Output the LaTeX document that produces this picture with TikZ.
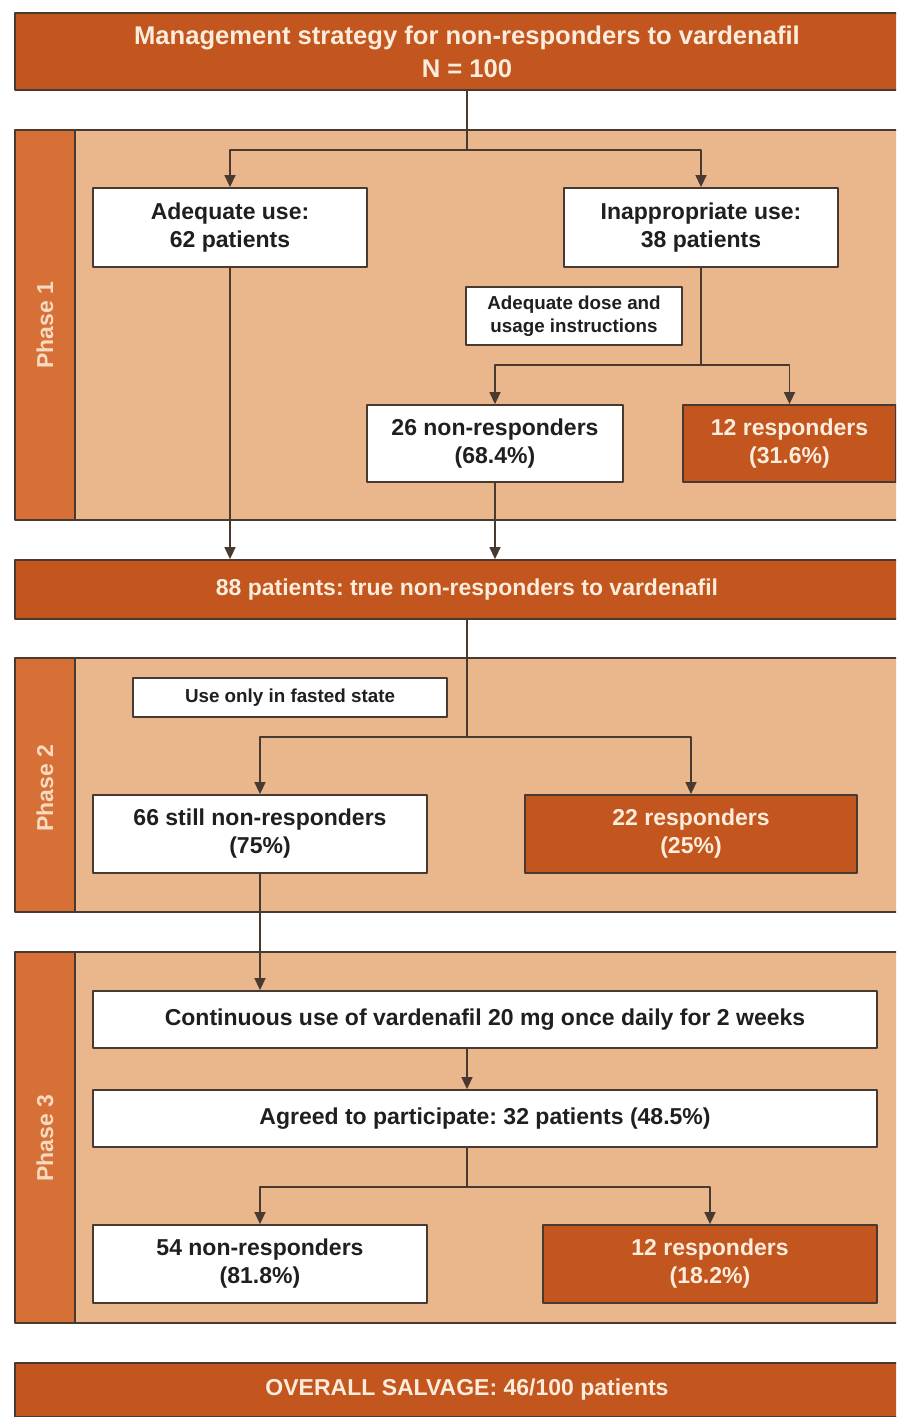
\documentclass[tikz,border=0pt]{standalone}
\usepackage{fontspec}
\setmainfont{Liberation Sans}
\usepackage{tikz}
\usetikzlibrary{arrows.meta,positioning}
\frenchspacing
\definecolor{barorange}{RGB}{194,86,30}
\definecolor{phasestrip}{RGB}{214,112,54}
\definecolor{phasetan}{RGB}{234,183,140}
\definecolor{phaselabel}{RGB}{248,218,192}
\definecolor{boxline}{RGB}{72,58,48}
\definecolor{creamtext}{RGB}{252,236,220}
\tikzset{
 whitebox/.style={draw=boxline,line width=0.9pt,fill=white,text=black!88,
  font=\bfseries\fontsize{11.5}{14}\selectfont,align=center,inner sep=0pt},
 orangebox/.style={whitebox,fill=barorange,text=creamtext},
 notebox/.style={whitebox,font=\bfseries\fontsize{9.4}{11.5}\selectfont},
 phasetag/.style={rotate=90,text=phaselabel,font=\bfseries\fontsize{11.5}{14}\selectfont},
 link/.style={draw=boxline,line width=0.75pt},
}

\begin{document}
\begin{tikzpicture}[x=0.5pt,y=-0.5pt,>={Triangle[length=6pt,width=5.5pt]},line cap=round,line join=round]
 \path[use as bounding box] (0,0) rectangle (896,1417);
 \clip (0,0) rectangle (896,1417);
 \fill[white] (0,0) rectangle (896,1417);
 % Fasen-panelen met gekleurde zijstrook.
 \fill[phasetan] (15,130) rectangle (919,520);
 \fill[phasestrip] (15,130) rectangle (75,520);
 \draw[boxline,line width=0.8pt] (15,130) rectangle (919,520) (75,130)--(75,520);
 \node[phasetag] (phase1) at (45,325) {Phase 1};
 \fill[phasetan] (15,658) rectangle (919,912);
 \fill[phasestrip] (15,658) rectangle (75,912);
 \draw[boxline,line width=0.8pt] (15,658) rectangle (919,912) (75,658)--(75,912);
 \node[phasetag] (phase2) at (45,788) {Phase 2};
 \fill[phasetan] (15,952) rectangle (919,1323);
 \fill[phasestrip] (15,952) rectangle (75,1323);
 \draw[boxline,line width=0.8pt] (15,952) rectangle (919,1323) (75,952)--(75,1323);
 \node[phasetag] (phase3) at (45,1138) {Phase 3};
 % Kop en tussenbalken.
 \node[orangebox,minimum width=452pt,minimum height=38.5pt,
  font=\bfseries\fontsize{12.8}{16.5}\selectfont] (title) at (467,51.5)
  {Management strategy for non-responders to vardenafil\\N = 100};
 \node[orangebox,minimum width=452pt,minimum height=29.5pt] (bar88) at (467,589.5)
  {88 patients: true non-responders to vardenafil};
 \node[orangebox,minimum width=452pt,minimum height=27pt] (salvage) at (467,1390)
  {OVERALL SALVAGE: 46/100 patients};
 % Fase 1.
 \node[whitebox,minimum width=137pt,minimum height=39.5pt] (adequate) at (230,227.5)
  {Adequate use:\\62 patients};
 \node[whitebox,minimum width=137pt,minimum height=39.5pt] (inappr) at (701,227.5)
  {Inappropriate use:\\38 patients};
 \node[notebox,minimum width=108pt,minimum height=29pt] (dose) at (574,316)
  {Adequate dose and\\usage instructions};
 \node[whitebox,minimum width=128pt,minimum height=38.5pt] (nonresp26) at (495,443.5)
  {26 non-responders\\(68.4\%)};
 \node[orangebox,minimum width=106.5pt,minimum height=38.5pt] (resp12a) at (789.5,443.5)
  {12 responders\\(31.6\%)};
 % Fase 2.
 \node[notebox,minimum width=157pt,minimum height=19.5pt] (fasted) at (290,697.5)
  {Use only in fasted state};
 \node[whitebox,minimum width=167pt,minimum height=39pt] (still66) at (260,834)
  {66 still non-responders\\(75\%)};
 \node[orangebox,minimum width=166pt,minimum height=39pt] (resp22) at (691,834)
  {22 responders\\(25\%)};
 % Fase 3.
 \node[whitebox,minimum width=392pt,minimum height=28.5pt] (contin) at (485,1019.5)
  {Continuous use of vardenafil 20 mg once daily for 2 weeks};
 \node[whitebox,minimum width=392pt,minimum height=28.5pt] (agreed) at (485,1118.5)
  {Agreed to participate: 32 patients (48.5\%)};
 \node[whitebox,minimum width=167pt,minimum height=39pt] (nonresp54) at (260,1264)
  {54 non-responders\\(81.8\%)};
 \node[orangebox,minimum width=167pt,minimum height=39pt] (resp12b) at (710,1264)
  {12 responders\\(18.2\%)};
 % Verbindingen.
 \coordinate (split1) at (467,150);
 \coordinate (split1b) at (701,365);
 \coordinate (split2) at (467,737);
 \coordinate (split3) at (467,1187);
 \draw[link] (title.south) -- (split1);
 \draw[link,->] (split1) -| (adequate.north);
 \draw[link,->] (split1) -| (inappr.north);
 \draw[link] (inappr.south) -- (split1b);
 \draw[link,->] (split1b) -| (nonresp26.north);
 \draw[link,->] (split1b) -| (resp12a.north);
 \draw[link,->] (adequate.south) -- (adequate.south |- bar88.north);
 \draw[link,->] (nonresp26.south) -- (nonresp26.south |- bar88.north);
 \draw[link] (bar88.south) -- (split2);
 \draw[link,->] (split2) -| (still66.north);
 \draw[link,->] (split2) -| (resp22.north);
 \draw[link,->] (still66.south) -- (still66.south |- contin.north);
 \draw[link,->] (contin.south -| title.south) -- (agreed.north -| title.south);
 \draw[link] (agreed.south -| title.south) -- (split3);
 \draw[link,->] (split3) -| (nonresp54.north);
 \draw[link,->] (split3) -| (resp12b.north);
\end{tikzpicture}
\end{document}
